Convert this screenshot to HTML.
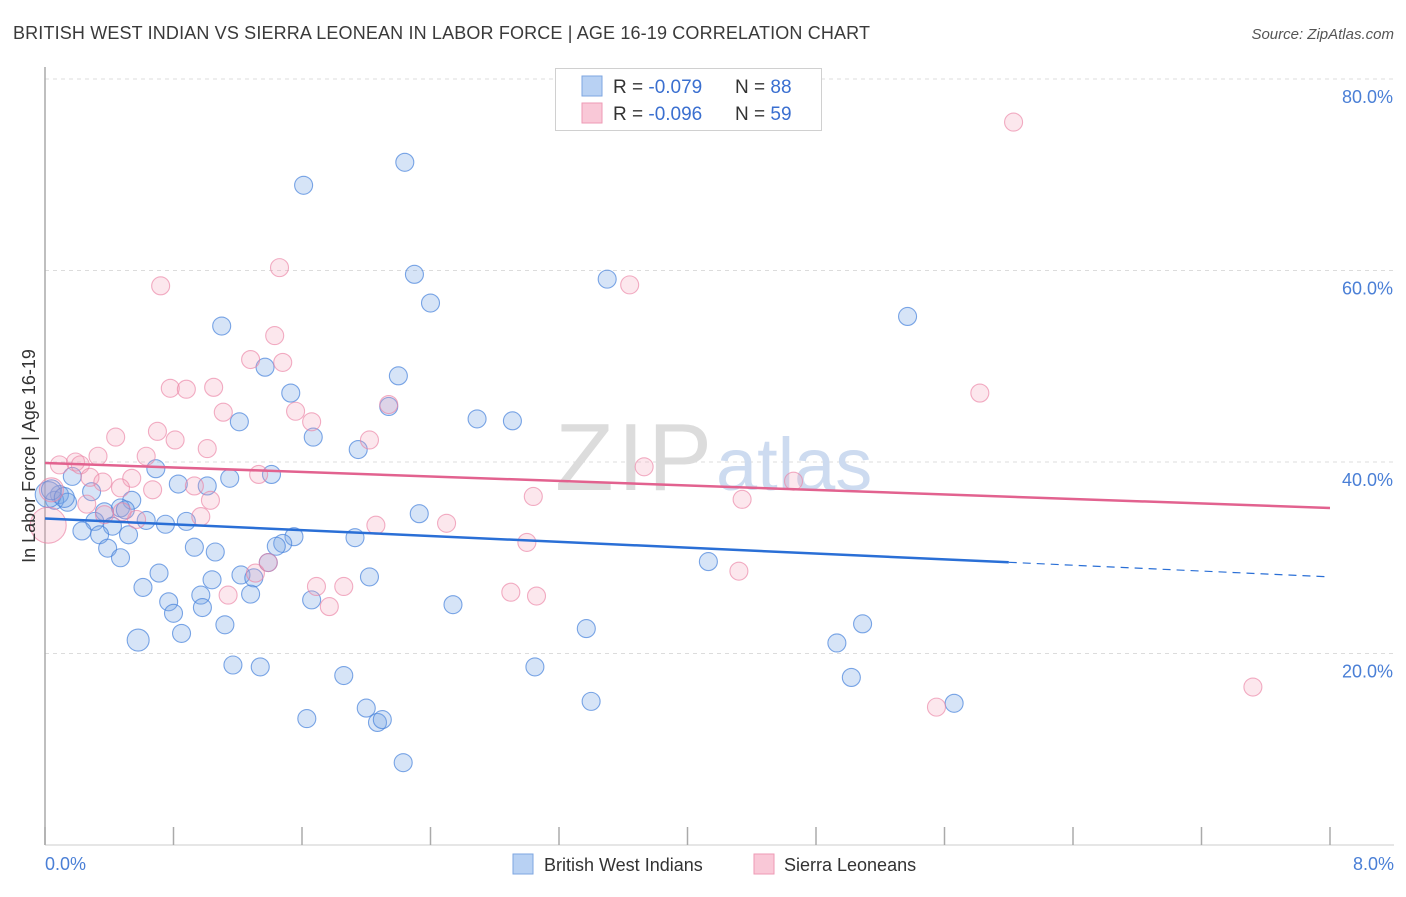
<!DOCTYPE html>
<html><head><meta charset="utf-8"><style>
body{margin:0;background:#fff;font-family:"Liberation Sans",sans-serif;}
svg text{font-family:"Liberation Sans",sans-serif;}
</style></head><body>
<svg id="chart" width="1406" height="892" xmlns="http://www.w3.org/2000/svg">
<text x="13" y="39" font-size="18" fill="#3a3a3a" textLength="857">BRITISH WEST INDIAN VS SIERRA LEONEAN IN LABOR FORCE | AGE 16-19 CORRELATION CHART</text>
<text x="1394" y="39" font-size="15" fill="#555" text-anchor="end" font-style="italic">Source: ZipAtlas.com</text>
<g id="grid"></g>
<text x="555" y="490" font-size="96" fill="#dcdcdc" textLength="157" font-family="Liberation Serif">ZIP</text>
<text x="716" y="490" font-size="74" fill="#cddbf0">atlas</text>
<g id="axes"></g>
<g id="pts"></g>
<g id="trends"></g>
<text x="0" y="0" font-size="18" fill="#333" text-anchor="middle" transform="translate(35 456) rotate(-90)">In Labor Force | Age 16-19</text>
<text x="45" y="870" font-size="18" fill="#4a7fd6">0.0%</text>
<text x="1394" y="870" font-size="18" fill="#4a7fd6" text-anchor="end">8.0%</text>
<g>
<rect x="555.5" y="68.5" width="266" height="62" fill="#fff" stroke="#d0d0d0"/>
<rect x="582" y="76" width="20" height="20" fill="#b8d1f3" stroke="#7ea6e0"/>
<rect x="582" y="103" width="20" height="20" fill="#f9c8d7" stroke="#ee9ab4"/>
<text x="613" y="93" font-size="19" fill="#333">R = <tspan fill="#3a6fd0">-0.079</tspan><tspan x="735">N = </tspan><tspan fill="#3a6fd0">88</tspan></text>
<text x="613" y="120" font-size="19" fill="#333">R = <tspan fill="#3a6fd0">-0.096</tspan><tspan x="735">N = </tspan><tspan fill="#3a6fd0">59</tspan></text>
</g>
<g>
<rect x="513" y="854" width="20" height="20" fill="#b8d1f3" stroke="#7ea6e0"/>
<text x="544" y="871" font-size="18" fill="#333">British West Indians</text>
<rect x="754" y="854" width="20" height="20" fill="#f9c8d7" stroke="#ee9ab4"/>
<text x="784" y="871" font-size="18" fill="#333">Sierra Leoneans</text>
</g>
</svg>
<script>
const yTicks=[20,40,60,80];
const yTickLabels=["20.0%","40.0%","60.0%","80.0%"];
const xTicks=[0,0.8,1.6,2.4,3.2,4.0,4.8,5.6,6.4,7.2,8.0];
const blueX=[2.24,1.61,2.30,3.50,2.40,5.37,1.10,1.37,2.20,1.53,2.14,2.69,2.91,1.21,1.67,1.95,0.69,0.17,1.15,0.83,1.01,1.41,0.29,0.54,0.09,0.06,0.14,0.47,0.50,0.37,0.63,0.31,0.88,2.33,0.75,0.42,0.23,0.34,0.52,1.55,1.93,1.48,1.44,0.39,0.93,1.06,0.47,4.13,1.39,0.71,1.22,1.04,2.02,1.30,0.61,0.97,1.28,1.66,0.77,2.54,0.98,0.80,1.12,3.37,5.09,0.85,0.58,4.93,1.17,1.34,3.05,1.86,5.02,3.40,5.66,2.00,1.63,2.07,2.10,2.23,0.02,0.04,0.12];
const blueY=[71.3,68.9,59.6,59.1,56.6,55.2,54.2,49.9,49.0,47.2,45.8,44.5,44.3,44.2,42.6,41.3,39.3,38.5,38.3,37.7,37.5,38.7,36.9,36.0,36.6,36.0,35.8,35.2,35.0,34.8,33.9,33.8,33.8,34.6,33.5,33.3,32.8,32.4,32.4,32.2,32.1,31.5,31.2,31.0,31.1,30.6,30.0,29.6,29.5,28.4,28.2,27.7,28.0,27.9,26.9,26.1,26.2,25.6,25.4,25.1,24.8,24.2,23.0,22.6,23.1,22.1,21.4,21.1,18.8,18.6,18.6,17.7,17.5,15.0,14.8,14.3,13.2,12.8,13.1,8.6,36.6,37.1,36.3];
const blueR=[9,9,9,9,9,9,9,9,9,9,9,9,9,9,9,9,9,9,9,9,9,9,9,9,9,9,9,9,9,9,9,9,9,9,9,9,9,9,9,9,9,9,9,9,9,9,9,9,9,9,9,9,9,9,9,9,9,9,9,9,9,9,9,9,9,9,11,9,9,9,9,9,9,9,9,9,9,9,9,9,13,10,10];
const pinkX=[6.03,1.46,0.72,3.64,1.43,1.28,1.48,0.78,0.88,1.05,1.11,1.56,2.14,1.66,5.82,0.44,0.70,0.81,1.01,2.02,0.33,0.63,0.09,0.19,0.22,3.73,1.33,0.28,0.36,0.54,0.47,0.67,0.93,4.66,3.04,4.34,1.03,0.26,0.37,0.57,0.97,2.06,2.50,3.00,4.32,1.39,1.31,1.69,1.86,1.14,2.90,3.06,1.77,7.52,5.55,0.02,0.04,0.48];
const pinkY=[75.5,60.3,58.4,58.5,53.2,50.7,50.4,47.7,47.6,47.8,45.2,45.3,46.0,44.2,47.2,42.6,43.2,42.3,41.4,42.3,40.6,40.6,39.7,40.0,39.7,39.5,38.7,38.4,37.9,38.3,37.3,37.1,37.5,38.0,36.4,36.1,36.0,35.6,34.5,34.0,34.3,33.4,33.6,31.6,28.6,29.5,28.4,27.0,27.0,26.1,26.4,26.0,24.9,16.5,14.4,33.4,37.1,34.8];
const pinkR=pinkX.map((v,i)=>i===55?18:(i===56?12:9));
const blueTrend=[34.1,28.0]; const blueSolidEnd=6.0;
const pinkTrend=[39.9,35.2];
const X0=45,X1=1330,Y0=845,Y1=79;
const sx=v=>X0+(v/8)*(X1-X0);
const sy=v=>Y0-(v/80)*(Y0-Y1);
const NS="http://www.w3.org/2000/svg";
function mk(tag,attrs,parent){const e=document.createElementNS(NS,tag);for(const k in attrs)e.setAttribute(k,attrs[k]);parent.appendChild(e);return e;}
const grid=document.getElementById('grid'),axes=document.getElementById('axes');
yTicks.forEach((t,i)=>{
 const l=mk('line',{x1:X0,x2:1394,y1:sy(t),y2:sy(t),stroke:'#dcdcdc','stroke-dasharray':'4 4'},grid);
 
 
 const tx=mk('text',{x:1393,y:sy(t)+24,'font-size':18,fill:'#4a7fd6','text-anchor':'end'},axes);
 tx.textContent=yTickLabels[i];
 
 
});
const ax=mk('line',{x1:X0,x2:X0,y1:67,y2:Y0,stroke:'#aaa','stroke-width':1.5},axes);


const bx=mk('line',{x1:X0,x2:1394,y1:Y0,y2:Y0,stroke:'#ccc'},axes);


xTicks.forEach(t=>{const l=mk('line',{x1:sx(t),x2:sx(t),y1:827,y2:Y0,stroke:'#aaa','stroke-width':1.5},axes);
 
 });
const pts=document.getElementById('pts');
blueX.forEach((v,i)=>{const c=mk('circle',{cx:sx(v),cy:sy(blueY[i]),r:blueR[i],fill:'rgba(120,165,230,0.3)',stroke:'rgba(70,130,220,0.7)','stroke-width':1.1},pts);
 
 });
pinkX.forEach((v,i)=>{const c=mk('circle',{cx:sx(v),cy:sy(pinkY[i]),r:pinkR[i],fill:'rgba(245,160,185,0.25)',stroke:'rgba(235,130,165,0.65)','stroke-width':1.1},pts);
 
 });
const tr=document.getElementById('trends');
const by=x=>blueTrend[0]+(blueTrend[1]-blueTrend[0])*x/8;
const py=x=>pinkTrend[0]+(pinkTrend[1]-pinkTrend[0])*x/8;
const b1=mk('line',{x1:sx(0),y1:sy(by(0)),x2:sx(blueSolidEnd),y2:sy(by(blueSolidEnd)),stroke:'#2a6fd6','stroke-width':2.5},tr);


const b2=mk('line',{x1:sx(blueSolidEnd),y1:sy(by(blueSolidEnd)),x2:sx(8),y2:sy(by(8)),stroke:'#2a6fd6','stroke-width':1.2,'stroke-dasharray':'8 6'},tr);


const p1=mk('line',{x1:sx(0),y1:sy(py(0)),x2:sx(8),y2:sy(py(8)),stroke:'#e2628f','stroke-width':2.5},tr);


</script>
</body></html>
